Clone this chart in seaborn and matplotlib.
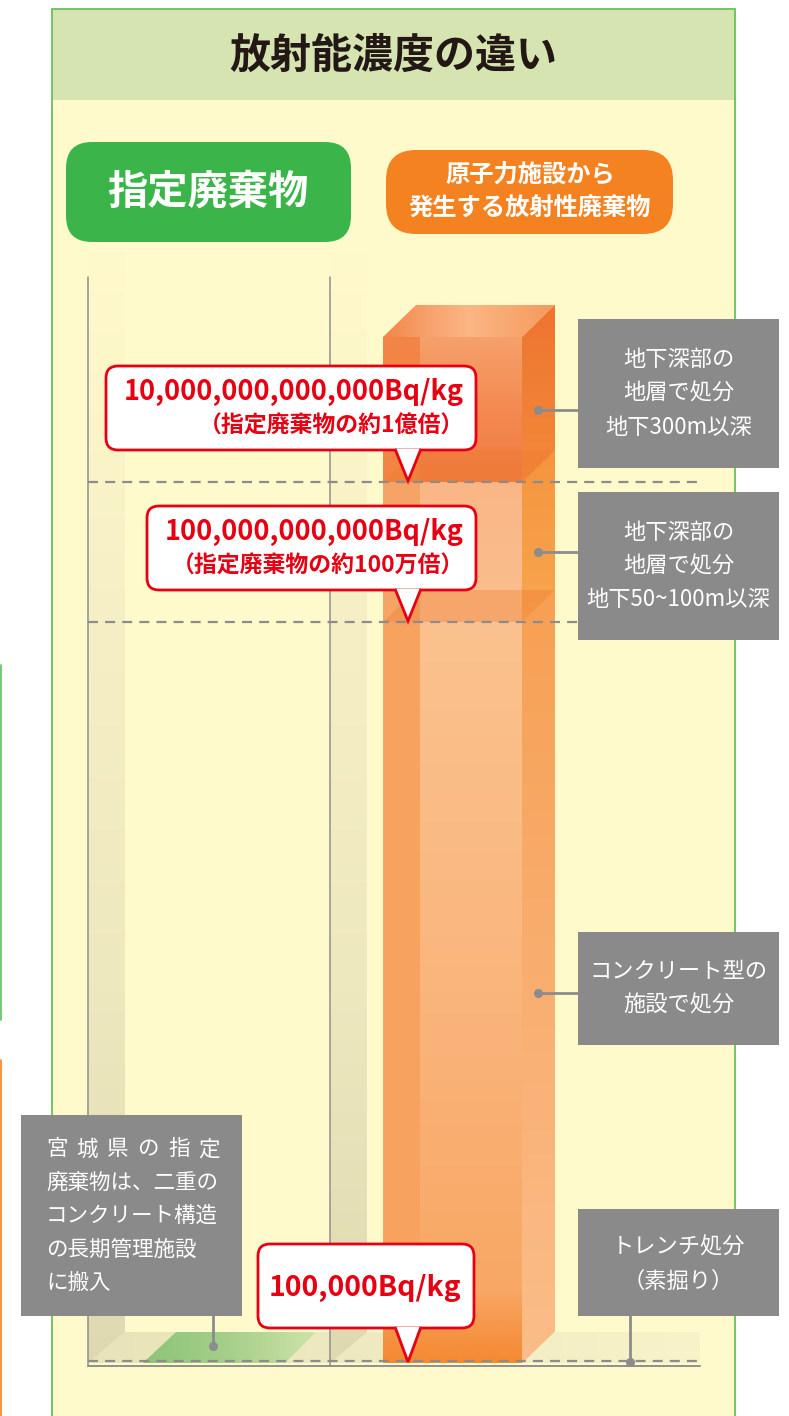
import numpy as np
import matplotlib
matplotlib.use("Agg")
import matplotlib.pyplot as plt
import seaborn as sns
from matplotlib.patches import FancyBboxPatch, Rectangle, Polygon
from matplotlib.colors import LinearSegmentedColormap, to_rgb

W, H = 789, 1416

# ---------------- data ----------------#
title = "放射能濃度の違い"
left_head = "指定廃棄物"
right_head = ["原子力施設から", "発生する放射性廃棄物"]

levels_bq = ["10,000,000,000,000Bq/kg", "100,000,000,000Bq/kg", "100,000Bq/kg"]
level_notes = ["（指定廃棄物の約1億倍）", "（指定廃棄物の約100万倍）", ""]
level_height = [881, 741, 0]            # schematic height above the floor line

segment_top = [1026, 881, 741]          # orange column, top of each disposal block
segment_bottom = segment_top[1:] + [0]
segment_label = [["地下深部の", "地層で処分", "地下300m以深"],
                 ["地下深部の", "地層で処分", "地下50~100m以深"],
                 ["コンクリート型の", "施設で処分"]]
trench_label = ["トレンチ処分", "（素掘り）"]
miyagi_lines = ["宮城県の指定", "廃棄物は、二重の", "コンクリート構造", "の長期管理施設", "に搬入"]

# ---------------- colours ----------------#
RED = "#e60012"
GRAY_BOX = "#8a8a8b"
LINE = "#8c8c8c"
CREAM = "#fffacb"

sns.set_theme(style="white")
plt.rcParams['font.family'] = ['Noto Sans CJK JP', 'DejaVu Sans']

fig = plt.figure(figsize=(W / 100, H / 100), dpi=100)
ax = fig.add_axes([0, 0, 1, 1])


def Y(p):
    # pixel row (from top) -> data y
    return H - p


FLOOR = Y(1363)


def rect(x0, y0, x1, y1, **kw):
    r = Rectangle((x0, Y(y1)), x1 - x0, y1 - y0, **kw)
    ax.add_patch(r)
    return r


def rbox(x0, y0, x1, y1, r, **kw):
    p = FancyBboxPatch((x0, Y(y1)), x1 - x0, y1 - y0,
                       boxstyle="round,pad=0,rounding_size=%d" % r, **kw)
    ax.add_patch(p)
    return p


def poly(pts, add=True, **kw):
    p = Polygon([(x, Y(y)) for x, y in pts], transform=ax.transData, **kw)
    if add:
        ax.add_patch(p)
    return p


def grad(clip, x0, x1, y0, y1, colors, horizontal=False, z=2):
    cm = LinearSegmentedColormap.from_list("g", colors)
    a = np.linspace(0, 1, 256)
    a = a[None, :] if horizontal else a[:, None]
    im = ax.imshow(a, cmap=cm, extent=(x0, x1, Y(y1), Y(y0)), origin="upper",
                   aspect="auto", zorder=z, interpolation="bilinear")
    im.set_clip_path(clip)
    return im


def lines_text(x, yc, rows, step, **kw):
    n = len(rows)
    for i, s in enumerate(rows):
        ax.text(x, Y(yc + (i - (n - 1) / 2) * step), s, va="center", **kw)


# ---------------- panel ----------------#
rect(52, 9, 735, 100, facecolor="#d5e4b0", edgecolor="none", zorder=0)
rect(52, 100, 735, 1420, facecolor=CREAM, edgecolor="none", zorder=0)
rect(52, 9, 735, 1420, facecolor="none", edgecolor="#66c25a", lw=1.3, zorder=1)
ax.plot([0.8, 0.8], [Y(665), Y(1020)], color="#5cbf5a", lw=1.2)
ax.plot([0.8, 0.8], [Y(1060), Y(1416)], color="#f58220", lw=1.2)

ax.text(393, Y(56), title, ha="center", va="center", fontsize=29.5,
        fontweight="bold", color="#231815")

rbox(66, 142, 351, 242, 26, facecolor="#3bb54a", edgecolor="none", zorder=3)
ax.text(208, Y(192), left_head, ha="center", va="center", fontsize=29,
        fontweight="bold", color="white", zorder=4)
rbox(386, 150, 673, 234, 30, facecolor="#f58220", edgecolor="none", zorder=3)
lines_text(530, 192, right_head, 34, ha="center", fontsize=17.5,
           fontweight="bold", color="white", zorder=4)

# ---------------- containers ----------------#
wall_cols = [CREAM, "#f6efc6", "#eee8bf", "#dfd9b1"]
floor_clip = poly([(88, 1363), (125, 1332), (700, 1332), (700, 1363)], add=False)
grad(floor_clip, 88, 700, 1332, 1363, ["#e9e3ba", "#f0eac1", "#f8f3c9"], horizontal=True, z=1)
for wx in [88, 330]:
    wall = poly([(wx, 245), (wx + 37, 245), (wx + 37, 1332), (wx, 1363)], add=False)
    grad(wall, wx, wx + 37, 245, 1363, wall_cols, z=1.2)
    ax.plot([wx, wx], [Y(277), Y(1366)], color="#8f8f8f", lw=1.1, zorder=1.5)

green = poly([(143, 1363), (176, 1332), (316, 1332), (285, 1363)], add=False)
grad(green, 143, 316, 1332, 1363, ["#8cc479", "#a6cf8a", "#cde3a8"], horizontal=True, z=1.4)

ax.plot([88, 700], [FLOOR - 3, FLOOR - 3], color="#8f8f8f", lw=1.4, zorder=1.6)
for h in level_height:
    ax.plot([88, 700], [FLOOR + h + (2 if h == 0 else 0)] * 2, color=LINE, lw=1.6,
            ls=(0, (4.5, 3.2)), zorder=2.6)

# ---------------- orange column ----------------#
fx0, fx1, hx = 383, 522, 420
dx, dy = 33, 32
front_left = ["#f28545", "#f6a466", "#f7a35f"]
front_hi = [["#f6a06b", "#f38a52", "#f07a3e"], ["#fab686", "#fbbf8e"],
            ["#fbc28f", "#fab57c", "#f8a45f"]]
side_cols = [["#ef7430", "#f38a3a"], ["#f5953e", "#f8a650"],
             ["#f7a053", "#f9ae70", "#fbbd89"]]

for i in [2, 1, 0]:
    b, t = segment_bottom[i], segment_top[i]
    side = poly([(fx1, H - FLOOR - b), (fx1, H - FLOOR - t),
                 (fx1 + dx, H - FLOOR - t - dy), (fx1 + dx, H - FLOOR - b - dy)],
                facecolor=side_cols[i][0], edgecolor="none", zorder=2)
    grad(side, fx1, fx1 + dx, H - FLOOR - t - dy, H - FLOOR - b, side_cols[i], z=2.05)
    bl = ax.bar(fx0, t - b, bottom=FLOOR + b, width=fx1 - fx0, align="edge",
                color=front_left[i], edgecolor="none", zorder=2)
    bh = ax.bar(hx, t - b, bottom=FLOOR + b, width=fx1 - hx, align="edge",
                color=front_hi[i][0], edgecolor="none", zorder=2.1)
    grad(bh[0], hx, fx1, H - FLOOR - t, H - FLOOR - b, front_hi[i], z=2.15)
    if i == 2:
        # darker base where the column meets the floor
        c = to_rgb("#f4842a")
        grad(bl[0], fx0, fx1, 1290, 1363, [c + (0,), c + (0.85,)], z=2.2)

# top faces: the upper one solid, the inner ones seen through the block
for i, t in enumerate(segment_top):
    yt = H - FLOOR - t
    face = poly([(fx0, yt), (fx1, yt), (fx1 + dx, yt - dy), (fx0 + dx, yt - dy)],
                add=(i > 0), facecolor="#ef7a30", edgecolor="none",
                alpha=0.35, zorder=2.3)
    if i == 0:
        grad(face, fx0, fx1 + dx, yt - dy, yt,
             ["#f38446", "#f7a06c", "#fbb683", "#f8a870", "#f59a5f"],
             horizontal=True, z=2.3)

# ---------------- callouts ----------------#
call_x = [(106, 476), (147, 476), (258, 474)]
tip_x = 408
for i, h in enumerate(level_height):
    ytip = H - FLOOR - h
    y1 = ytip - (35 if h == 0 else 32)
    y0 = y1 - 84
    x0, x1 = call_x[i]
    rbox(x0, y0, x1, y1, 12, facecolor="white", edgecolor=RED, lw=2.0, zorder=5)
    poly([(tip_x - 13, y1 - 1.2), (tip_x, ytip - 1), (tip_x + 13, y1 - 1.2)],
         closed=False, facecolor="white", edgecolor=RED, lw=2.0, zorder=6,
         joinstyle="miter")
    if level_notes[i]:
        ax.text(464, Y(y0 + 26), levels_bq[i], ha="right", va="center",
                fontsize=19.5, fontweight="bold", color=RED, zorder=7)
        ax.text(464, Y(y0 + 60), level_notes[i], ha="right", va="center",
                fontsize=16.5, fontweight="bold", color=RED, zorder=7)
    else:
        ax.text((x0 + x1) / 2 - 1, Y(y0 + 44), levels_bq[i], ha="center",
                va="center", fontsize=20.5, fontweight="bold", color=RED, zorder=7)

# ---------------- disposal boxes ----------------#
box_y = [(319, 468), (492, 640), (932, 1045)]
for i, (y0, y1) in enumerate(box_y):
    yd = H - FLOOR - (segment_top[i] + segment_bottom[i]) / 2
    ax.plot([538, 578], [Y(yd), Y(yd)], color=LINE, lw=2, zorder=3)
    ax.plot(538, Y(yd), "o", color=LINE, ms=5.5, zorder=3)
    rect(578, y0, 779, y1, facecolor=GRAY_BOX, edgecolor="none", zorder=4)
    lines_text(678.5, (y0 + y1) / 2, segment_label[i], 34, ha="center",
               fontsize=16, color="white", zorder=5)

rect(578, 1209, 779, 1316, facecolor=GRAY_BOX, edgecolor="none", zorder=4)
lines_text(678.5, 1264, trench_label, 34, ha="center", fontsize=16,
           color="white", zorder=5)
ax.plot([630, 630], [Y(1316), FLOOR + 1], color=LINE, lw=2, zorder=3)
ax.plot(630, FLOOR + 1, "o", color=LINE, ms=5.5, zorder=3)

rect(21, 1115, 242, 1316, facecolor=GRAY_BOX, edgecolor="none", zorder=4)
ax.plot([213, 213], [Y(1316), Y(1346)], color=LINE, lw=2, zorder=3)
ax.plot(213, Y(1346), "o", color=LINE, ms=5.5, zorder=3)
xl, xr = 46, 220
for j, row in enumerate(miyagi_lines):
    yy = Y(1216 + (j - 2) * 33.3)
    if j == 0:
        # first line is spread to the full text width
        cw = (xr - xl) / 8
        xs = np.linspace(xl + cw / 2, xr - cw / 2, len(row))
        for ch, xc in zip(row, xs):
            ax.text(xc, yy, ch, ha="center", va="center", fontsize=15.5,
                    color="white", zorder=5)
    else:
        ax.text(xl, yy, row, ha="left", va="center", fontsize=15.5,
                color="white", zorder=5)

ax.set_xlim(0, W)
ax.set_ylim(0, H)
ax.axis("off")
fig.savefig("out.png", dpi=100, facecolor="white")
